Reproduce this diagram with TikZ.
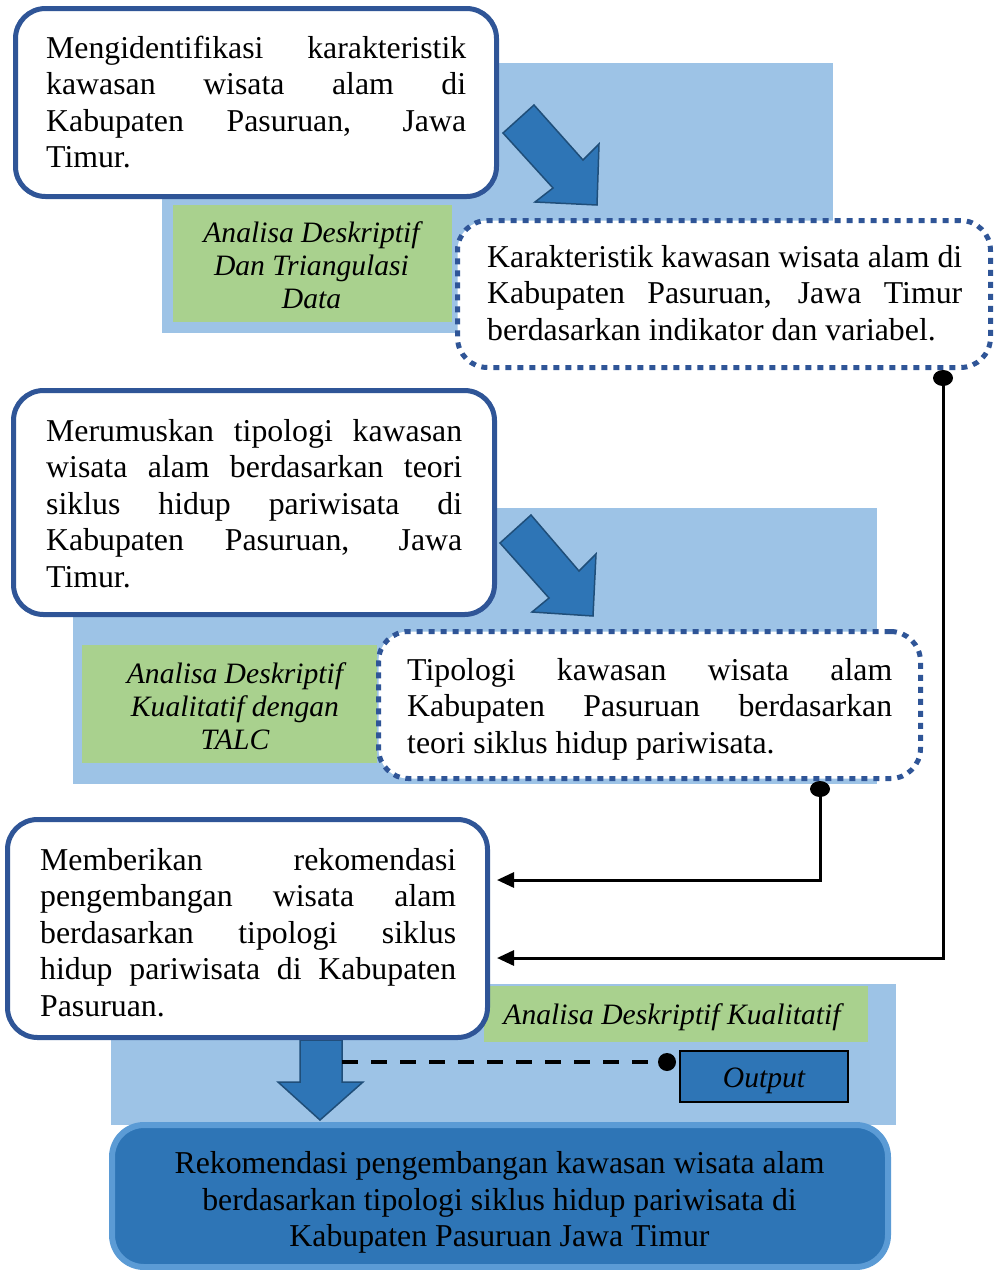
\documentclass[tikz,border=0pt]{standalone}
\usepackage{fontspec}
\setmainfont{Liberation Serif}
\usetikzlibrary{arrows.meta}
\definecolor{paleblue}{HTML}{9DC3E6}
\definecolor{leafgreen}{HTML}{A9D18E}
\definecolor{navyline}{HTML}{2F5597}
\definecolor{midblue}{HTML}{2E75B6}
\definecolor{deepblue}{HTML}{1F4E79}
\definecolor{skyedge}{HTML}{5B9BD5}
% body text and italic method labels
\newcommand{\bodyfont}{\fontsize{31.8}{36.6}\selectfont}
\newcommand{\labelfont}{\fontsize{29.6}{33}\selectfont\itshape}
% justified paragraph of a given width, first-line baseline as reference
\newcommand{\jtext}[2]{\parbox[t]{#1}{\bodyfont\hyphenpenalty=10000 \exhyphenpenalty=10000 #2}}
% centred method label
\newcommand{\ctext}[2]{\parbox[t]{#1}{\centering\labelfont #2}}
\begin{document}
\begin{tikzpicture}[x=1pt,y=-1pt,
  stagebox/.style={rectangle, draw=navyline, line width=5pt, fill=white,
    rounded corners=30pt, inner sep=0pt, outer sep=0pt},
  resultbox/.style={rectangle, draw=navyline, line width=5pt,
    dash pattern=on 6pt off 6pt, fill=white, rounded corners=30pt,
    inner sep=0pt, outer sep=0pt},
  bigarrow/.style={fill=midblue, draw=deepblue, line width=1.5pt, line join=miter},
  link/.style={line width=3pt, -{Triangle[length=17pt,width=15pt]}},
  txt/.style={inner sep=0pt, anchor=base west},
  ctxt/.style={inner sep=0pt, anchor=base},
]
\useasboundingbox (0,0) rectangle (997,1270);

% background panels
\fill[paleblue] (162,63) rectangle (833,333);
\fill[paleblue] (73,508) rectangle (877,784);
\fill[paleblue] (111,984) rectangle (896,1125);

% method labels
\fill[leafgreen] (173,205) rectangle (452,322);
\fill[leafgreen] (82,645) rectangle (377,763);
\fill[leafgreen] (484,986) rectangle (868,1042);
\node[ctxt] (m1) at (311.5,242) {\ctext{270pt}{Analisa Deskriptif\\ Dan Triangulasi\\ Data}};
\node[ctxt] (m2) at (235,683) {\ctext{285pt}{Analisa Deskriptif\\ Kualitatif dengan\\ TALC}};
\node[ctxt] (m3) at (672,1024) {\ctext{380pt}{Analisa Deskriptif Kualitatif}};

% down arrow towards the final result
\draw[bigarrow] (300,1040) -- (342,1040) -- (342,1082) -- (363,1082) -- (320,1120)
  -- (278,1082) -- (300,1082) -- cycle;
\coordinate (shaft) at (342,1062);

% stage boxes
\node[stagebox, minimum width=481pt, minimum height=188pt] (stage1) at (256,102.5) {};
\node[stagebox, minimum width=481pt, minimum height=224pt] (stage2) at (254,502.5) {};
\node[stagebox, minimum width=480pt, minimum height=218pt] (stage3) at (247.5,928.5) {};

\node[txt] (s1text) at (46,58) {\jtext{420pt}{Mengidentifikasi karakteristik\linebreak
  kawasan wisata alam di\linebreak Kabupaten Pasuruan, Jawa\linebreak Timur.}};
\node[txt] (s2text) at (46,441) {\jtext{416pt}{Merumuskan tipologi kawasan\linebreak
  wisata alam berdasarkan teori\linebreak siklus hidup pariwisata di\linebreak
  Kabupaten Pasuruan, Jawa\linebreak Timur.}};
\node[txt] (s3text) at (40,870) {\jtext{416pt}{Memberikan rekomendasi\linebreak
  pengembangan wisata alam\linebreak berdasarkan tipologi siklus\linebreak
  hidup pariwisata di Kabupaten\linebreak Pasuruan.}};

% result boxes
\node[resultbox, minimum width=533pt, minimum height=147pt] (res1) at (724,294) {};
\node[resultbox, minimum width=542pt, minimum height=147pt] (res2) at (649.5,705) {};
\node[txt] (r1text) at (487,267) {\jtext{475pt}{Karakteristik kawasan wisata alam di\linebreak
  Kabupaten Pasuruan, Jawa Timur\linebreak berdasarkan indikator dan variabel.}};
\node[txt] (r2text) at (407,680) {\jtext{485pt}{Tipologi kawasan wisata alam\linebreak
  Kabupaten Pasuruan berdasarkan\linebreak teori siklus hidup pariwisata.}};

% diagonal arrows from stage to result
\draw[bigarrow] (503,133) -- (534,105) -- (583,160) -- (599,144) -- (597,205)
  -- (535,202) -- (553,188) -- cycle;
\draw[bigarrow] (500,543) -- (531,515) -- (579,571) -- (596,554) -- (593,616)
  -- (532,612) -- (549,598) -- cycle;

% feedback connectors into the recommendation stage
\coordinate (d1) at (943,378);
\coordinate (d2) at (820,789);
\coordinate (t1) at (497,958);
\coordinate (t2) at (497,880);
\draw[link] (d1) |- (t1);
\draw[link] (d2) |- (t2);
\fill (d1) ellipse [x radius=10pt, y radius=8pt];
\fill (d2) ellipse [x radius=10pt, y radius=8pt];

% output marker
\node[draw=black, line width=2pt, fill=midblue, minimum width=168pt, minimum height=51pt,
  inner sep=0pt, text height=21pt, text depth=0pt] (out) at (764,1076.5) {\labelfont Output};
\coordinate (od) at (667,1062);
\draw[line width=4pt, dash pattern=on 16pt off 13pt] (shaft) -- (od);
\fill (od) circle (9pt);

% final result
\node[rectangle, fill=midblue, draw=skyedge, line width=6pt, rounded corners=32pt,
  minimum width=776pt, minimum height=142pt, inner sep=0pt] (final) at (500,1196) {};
\node[ctxt] (ftext) at (499.5,1173.5) {\parbox[t]{760pt}{\centering\bodyfont
  Rekomendasi pengembangan kawasan wisata alam\\
  berdasarkan tipologi siklus hidup pariwisata di\\
  Kabupaten Pasuruan Jawa Timur}};
\end{tikzpicture}
\end{document}
